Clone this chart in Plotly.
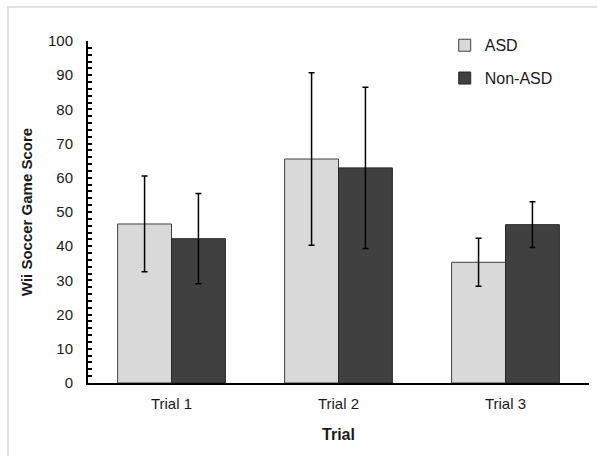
import plotly.graph_objects as go

categories = ["Trial 1", "Trial 2", "Trial 3"]
asd_mean = [46.5, 65.5, 35.3]
asd_err = [14.0, 25.2, 7.0]
non_asd_mean = [42.2, 62.9, 46.3]
non_asd_err = [13.2, 23.6, 6.7]

FONT = "Liberation Sans, Arial, sans-serif"
TXT = "#1a1a1a"

fig = go.Figure()
fig.add_trace(go.Bar(
    name="ASD", x=categories, y=asd_mean,
    marker=dict(color="#d9d9d9", line=dict(color="#404040", width=1)),
    error_y=dict(type="data", array=asd_err, visible=True, color="black", thickness=1.5, width=3),
    legendgroup="a",
))
fig.add_trace(go.Bar(
    name="Non-ASD", x=categories, y=non_asd_mean,
    marker=dict(color="#404040", line=dict(color="#262626", width=1)),
    error_y=dict(type="data", array=non_asd_err, visible=True, color="black", thickness=1.5, width=3),
    legendgroup="b",
))

fig.update_layout(
    width=597, height=456,
    margin=dict(l=88, r=8, t=41, b=73),
    paper_bgcolor="white", plot_bgcolor="white",
    barmode="group", bargap=0.355, bargroupgap=0,
    font=dict(family=FONT, color=TXT, size=14),
    legend=dict(
        x=0.712, y=1.037, xanchor="left", yanchor="top",
        font=dict(size=16, color=TXT, family=FONT),
        traceorder="grouped", tracegroupgap=9,
        bgcolor="rgba(0,0,0,0)",
    ),
    xaxis=dict(
        showline=True, linecolor="black", linewidth=2,
        ticks="", showgrid=False, zeroline=False,
        tickfont=dict(size=15, color=TXT),
        title=dict(text="<b>Trial</b>", font=dict(size=16, color=TXT), standoff=18),
        ticklabelstandoff=6,
    ),
    yaxis=dict(
        range=[0, 100], dtick=10, showgrid=False, zeroline=False,
        showline=True, linecolor="black", linewidth=2,
        ticks="inside", ticklen=4, tickwidth=1.5, tickcolor="black",
        minor=dict(ticks="inside", dtick=2, ticklen=4, tickwidth=1.5, tickcolor="black"),
        tickfont=dict(size=15, color=TXT),
        ticklabelstandoff=10,
        title=dict(text="<b>Wii Soccer Game Score</b>", font=dict(size=15, color=TXT), standoff=12),
    ),
    shapes=[dict(
        type="rect", xref="paper", yref="paper",
        x0=(8 - 88) / 501, x1=(620 - 88) / 501,
        y0=(383 - 480) / 342, y1=1 + (41 - 7) / 342,
        line=dict(color="#d9d9d9", width=1.5), fillcolor="rgba(0,0,0,0)", layer="below",
    )],
)

fig.write_html("out.html")
